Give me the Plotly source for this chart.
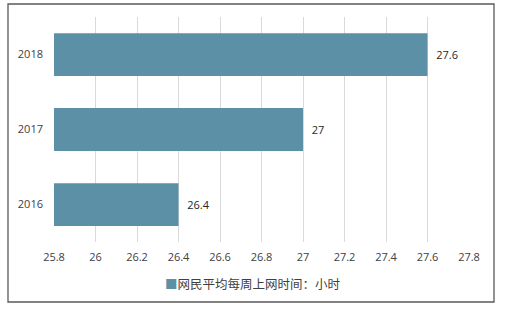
import plotly.graph_objects as go

years = ["2016", "2017", "2018"]
hours = [26.4, 27.0, 27.6]
hour_labels = ["26.4", "27", "27.6"]
x_ticks = [25.8, 26.0, 26.2, 26.4, 26.6, 26.8, 27.0, 27.2, 27.4, 27.6, 27.8]
x_tick_text = ["25.8", "26", "26.2", "26.4", "26.6", "26.8", "27", "27.2", "27.4", "27.6", "27.8"]
series_name = "网民平均每周上网时间：小时"

W, H = 507, 313
L, R, T, B = 54, 38, 17, 71
pw, ph = W - L - R, H - T - B

bar_color = "#5b90a7"
font_fam = "Open Sans, Noto Sans CJK SC, sans-serif"

fig = go.Figure()
fig.add_trace(go.Bar(
    y=years, x=hours, orientation="h",
    marker=dict(color=bar_color, line=dict(width=0)),
    text=["\u00a0\u00a0" + t for t in hour_labels], textposition="outside", cliponaxis=False,
    textfont=dict(size=11, color="#262626", family=font_fam),
    name=series_name, showlegend=False,
))

fig.update_layout(
    width=W, height=H,
    margin=dict(l=L, r=R, t=T, b=B, pad=0),
    paper_bgcolor="white", plot_bgcolor="white",
    bargap=0.43,
    font=dict(family=font_fam, size=11, color="#404040"),
    xaxis=dict(range=[25.8, 27.8], tickvals=x_ticks, ticktext=x_tick_text,
               showgrid=True, gridcolor="#d9d9d9", gridwidth=1,
               zeroline=False, showline=False, ticks="",
               tickfont=dict(size=11, color="#404040"), ticklabelstandoff=7),
    yaxis=dict(categoryorder="array", categoryarray=years,
               showgrid=False, zeroline=False, showline=False, ticks="",
               tickfont=dict(size=11, color="#404040"), ticklabelstandoff=10),
)

# outer border box (in paper coordinates)
x0 = (8 - L) / pw
x1 = (494 - L) / pw
y1 = (H - B - 4) / ph
y0 = (H - B - 302) / ph
fig.add_shape(type="rect", xref="paper", yref="paper", x0=x0, x1=x1, y0=y0, y1=y1,
              line=dict(color="#595959", width=1.3), fillcolor="rgba(0,0,0,0)", layer="above")

# legend-like annotation
fig.add_annotation(
    xref="paper", yref="paper", x=(253 - L) / pw, y=(H - B - 283) / ph,
    text=f"<span style='color:{bar_color}'>■</span>{series_name}",
    showarrow=False, xanchor="center", yanchor="middle",
    font=dict(size=12.5, color="#404040", family="Noto Sans CJK SC, sans-serif"),
)

fig.write_html("out.html")
